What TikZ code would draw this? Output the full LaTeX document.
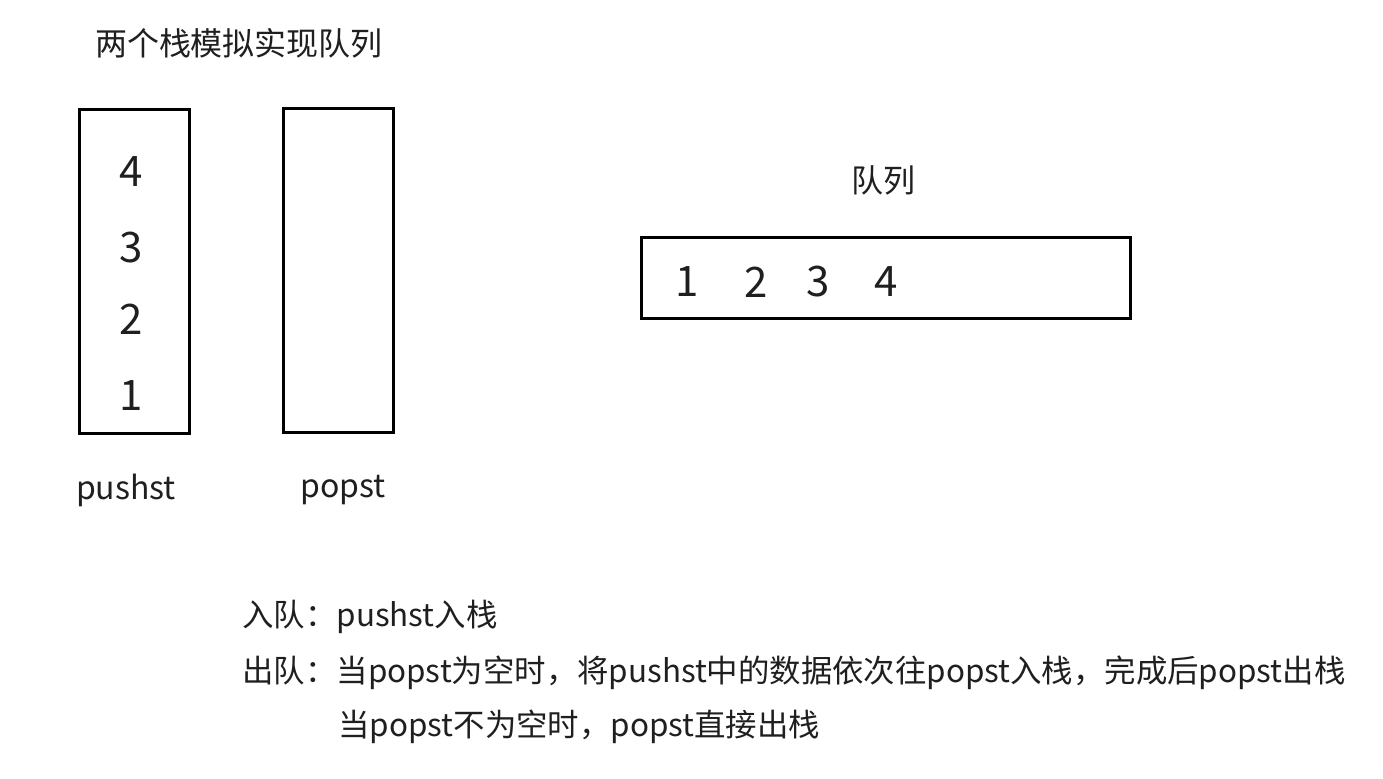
\documentclass[tikz,border=0pt]{standalone}
\usepackage{fontspec}
\setmainfont{Noto Sans CJK SC}
\usetikzlibrary{positioning}

\begin{document}
\begin{tikzpicture}[x=0.5pt,y=-0.5pt,
box/.style ={draw, line width=1.5pt, inner sep=0pt},
num/.style ={font=\fontsize{21}{25}\selectfont, text=black!88},
txt/.style ={font=\fontsize{16}{19}\selectfont, text=black!88, inner sep=0pt},
rule/.style ={txt, anchor=west, font=\fontsize{15.7}{19}\selectfont}]
\useasboundingbox (0,0) rectangle (1383,778);
\node[txt] (title) at (239,43) {两个栈模拟实现队列};
% the two stacks
\node[box, minimum width=55pt, minimum height=162pt] (pushst) at (134.5,271.5) {};
\node[box, minimum width=55pt, minimum height=162pt] (popst) at (338.5,270.5) {};
\node[num] (p4) at (131,172) {4};
\node[num] (p3) at (131,248) {3};
\node[num] (p2) at (131,319) {2};
\node[num] (p1) at (131,396) {1};
\node[txt] (pushlbl) at (126,490) {pushst};
\node[txt] (poplbl) at (343,490) {popst};
% the queue
\node[txt] (qlbl) at (883,180) {队列};
\node[box, minimum width=244.5pt, minimum height=40.5pt] (queue) at (885.5,278) {};
\node[num] (q1) at (687,282) {1};
\node[num] (q2) at (756,282) {2};
\node[num] (q3) at (818,282) {3};
\node[num] (q4) at (886,282) {4};
% rules
\node[rule] (enq) at (242,617) {入队：pushst入栈};
\node[rule] (deq) at (242,673) {出队：当popst为空时，将pushst中的数据依次往popst入栈，完成后popst出栈};
\node[rule] (deq2) at (338,727) {当popst不为空时，popst直接出栈};
\end{tikzpicture}
\end{document}
